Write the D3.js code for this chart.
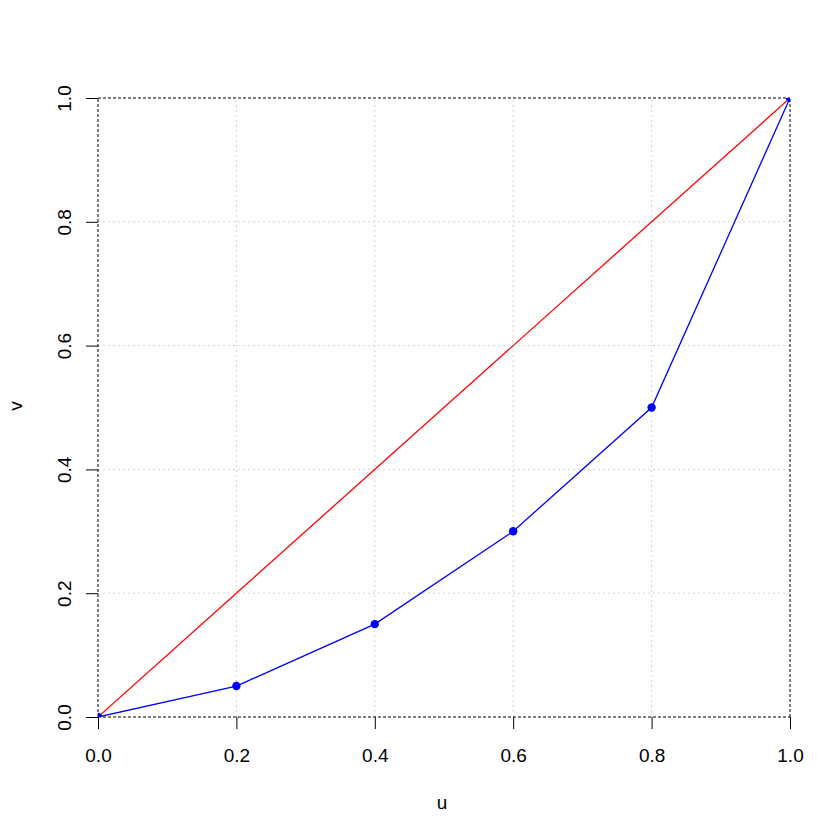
<!DOCTYPE html>
<html><head><meta charset="utf-8">
<script src="https://cdn.jsdelivr.net/npm/d3@7"></script>
<style>body{margin:0;background:#fff}</style>
</head><body>
<script>
const uVals = [0, 0.2, 0.4, 0.6, 0.8, 1.0];
const vVals = [0, 0.05, 0.15, 0.3, 0.5, 1.0];
const diagU = [0, 1];
const diagV = [0, 1];
const tickVals = [0, 0.2, 0.4, 0.6, 0.8, 1.0];
const tickLabels = ["0.0", "0.2", "0.4", "0.6", "0.8", "1.0"];

const W = 840, H = 840;
const svg = d3.select("body").append("svg").attr("width", W).attr("height", H);
const x = d3.scaleLinear().domain([0, 1]).range([98, 790]);
const y = d3.scaleLinear().domain([0, 1]).range([717, 98]);
const font = "Liberation Sans, Arial, sans-serif";
const fs = 19;

svg.append("defs").append("clipPath").attr("id", "clip")
  .append("rect").attr("x", 98).attr("y", 98).attr("width", 692).attr("height", 619);

// grid
const inner = tickVals.filter(t => t > 0 && t < 1);
svg.append("g").selectAll("line").data(inner).join("line")
  .attr("x1", d => x(d)).attr("x2", d => x(d)).attr("y1", y(0)).attr("y2", y(1))
  .attr("stroke", "#d3d3d3").attr("stroke-dasharray", "2,3");
svg.append("g").selectAll("line").data(inner).join("line")
  .attr("y1", d => y(d)).attr("y2", d => y(d)).attr("x1", x(0)).attr("x2", x(1))
  .attr("stroke", "#d3d3d3").attr("stroke-dasharray", "2,3");
// edge dashed lines
const edges = [0, 1];
svg.append("g").selectAll("line").data(edges).join("line")
  .attr("x1", d => x(d)).attr("x2", d => x(d)).attr("y1", y(0)).attr("y2", y(1))
  .attr("stroke", "#000").attr("stroke-dasharray", "3,2");
svg.append("g").selectAll("line").data(edges).join("line")
  .attr("y1", d => y(d)).attr("y2", d => y(d)).attr("x1", x(0)).attr("x2", x(1))
  .attr("stroke", "#000").attr("stroke-dasharray", "3,2");

// axes
const xAxis = d3.axisBottom(x).tickValues(tickVals).tickFormat((d, i) => tickLabels[i]).tickSize(12);
const gx = svg.append("g").attr("transform", `translate(0,${y(0)})`).call(xAxis);
gx.select(".domain").remove();
gx.selectAll("line").attr("stroke", "#000");
gx.selectAll("text").attr("font-family", font).attr("font-size", fs).attr("fill", "#000")
  .attr("y", 45).attr("dy", 0);

const yAxis = d3.axisLeft(y).tickValues(tickVals).tickFormat((d, i) => tickLabels[i]).tickSize(12);
const gy = svg.append("g").attr("transform", `translate(${x(0)},0)`).call(yAxis);
gy.select(".domain").remove();
gy.selectAll("line").attr("stroke", "#000");
gy.selectAll("text").attr("font-family", font).attr("font-size", fs).attr("fill", "#000")
  .attr("text-anchor", "middle").attr("x", 0).attr("y", 0).attr("dy", 0)
  .attr("transform", "translate(-27,0) rotate(-90)");

// data
const g = svg.append("g").attr("clip-path", "url(#clip)");
const line = d3.line().x(d => x(d[0])).y(d => y(d[1]));
g.append("path").datum(diagU.map((u, i) => [u, diagV[i]])).attr("d", line)
  .attr("fill", "none").attr("stroke", "red").attr("stroke-width", 1.3);
const pts = uVals.map((u, i) => [u, vVals[i]]);
g.append("path").datum(pts).attr("d", line)
  .attr("fill", "none").attr("stroke", "blue").attr("stroke-width", 1.3);
g.selectAll("circle").data(pts).join("circle")
  .attr("cx", d => x(d[0])).attr("cy", d => y(d[1])).attr("r", 4.2).attr("fill", "blue");

// labels
svg.append("text").attr("x", 442).attr("y", 809).attr("text-anchor", "middle")
  .attr("font-family", font).attr("font-size", fs).text("u");
svg.append("text").attr("transform", "translate(22,406) rotate(-90)").attr("text-anchor", "middle")
  .attr("font-family", font).attr("font-size", fs).text("v");
</script>
</body></html>
